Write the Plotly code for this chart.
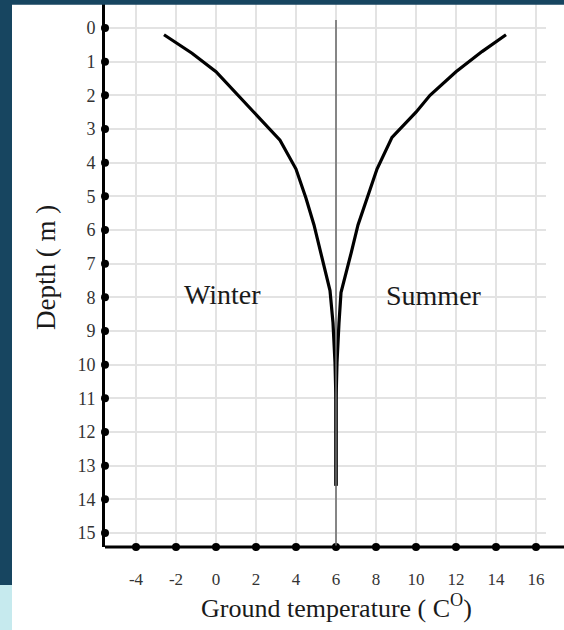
import plotly.graph_objects as go

# ---- data ----
winter_temp = [-2.6, -1.2, 0.0, 1.1, 2.0, 3.2, 4.0, 4.5, 4.9, 5.25, 5.55, 5.7, 5.85, 5.95, 6.0, 6.0]
winter_depth = [0.2, 0.75, 1.3, 2.0, 2.55, 3.33, 4.19, 5.06, 5.85, 6.7, 7.43, 7.8, 8.76, 9.94, 11.1, 13.6]
summer_temp = [14.5, 13.3, 12.0, 10.7, 10.0, 8.8, 8.05, 7.55, 7.1, 6.75, 6.45, 6.25, 6.15, 6.05, 6.0, 6.0]
summer_depth = [0.2, 0.7, 1.3, 2.0, 2.5, 3.25, 4.19, 5.06, 5.85, 6.7, 7.43, 7.86, 8.76, 9.94, 11.1, 13.6]

temp_ticks = [-4, -2, 0, 2, 4, 6, 8, 10, 12, 14, 16]
temp_tick_labels = ["-4", "-2", "0", "2", "4", "6", "8", "10", "12", "14", "16"]
depth_ticks = list(range(0, 16))
depth_tick_labels = [str(d) for d in depth_ticks]

mean_temp = 6

x_range = [-5.55, 16.5]
y_range = [15.416, -0.713]

W, H = 564, 630
ML, MR, MT, MB = 105, 18, 4, 83
PW = W - ML - MR
PH = H - MT - MB

def px_x(p):
    return (p - ML) / PW

def px_y(p):
    return (H - MB - p) / PH

FONT = "Liberation Serif"
DARK = "#174560"

fig = go.Figure()

# curves
fig.add_trace(go.Scatter(x=winter_temp, y=winter_depth, mode="lines",
                         line=dict(color="black", width=3.2), showlegend=False, hoverinfo="skip"))
fig.add_trace(go.Scatter(x=summer_temp, y=summer_depth, mode="lines",
                         line=dict(color="black", width=3.2), showlegend=False, hoverinfo="skip"))

# tick dots on axes
fig.add_trace(go.Scatter(x=[x_range[0]] * len(depth_ticks), y=depth_ticks, mode="markers",
                         marker=dict(color="black", size=8), cliponaxis=False,
                         showlegend=False, hoverinfo="skip"))
fig.add_trace(go.Scatter(x=temp_ticks, y=[y_range[0]] * len(temp_ticks), mode="markers",
                         marker=dict(color="black", size=8), cliponaxis=False,
                         showlegend=False, hoverinfo="skip"))

shapes = [
    # mean temperature line
    dict(type="line", xref="x", yref="paper", x0=mean_temp, x1=mean_temp,
         y0=px_y(20), y1=0, line=dict(color="#6e6e6e", width=1.6), layer="above"),
    # x axis line extended
    dict(type="line", xref="paper", yref="paper", x0=0, x1=px_x(W + 2), y0=0, y1=0,
         line=dict(color="black", width=3), layer="above"),
    # background strips
    dict(type="rect", xref="paper", yref="paper", x0=px_x(0), x1=px_x(W),
         y0=px_y(4.5), y1=px_y(0), fillcolor=DARK, line=dict(width=0), layer="above"),
    dict(type="line", xref="paper", yref="paper", x0=px_x(0), x1=px_x(W),
         y0=px_y(2.2), y1=px_y(2.2), line=dict(color=DARK, width=4.5), layer="above"),
    dict(type="rect", xref="paper", yref="paper", x0=px_x(0), x1=px_x(12),
         y0=px_y(585), y1=px_y(0), fillcolor=DARK, line=dict(width=0), layer="above"),
    dict(type="rect", xref="paper", yref="paper", x0=px_x(0), x1=px_x(12),
         y0=px_y(H), y1=px_y(585), fillcolor="#c6eaee", line=dict(width=0), layer="above"),
]

annotations = [
    dict(text="Winter", x=0.3, y=7.93, xref="x", yref="y", showarrow=False,
         font=dict(family=FONT, size=28, color="#1a1a1a")),
    dict(text="Summer", x=10.9, y=7.96, xref="x", yref="y", showarrow=False,
         font=dict(family=FONT, size=28, color="#1a1a1a")),
    dict(text="Ground temperature ( C<sup>O</sup>)", x=mean_temp, y=px_y(606), xref="x", yref="paper",
         showarrow=False, xanchor="center", yanchor="middle",
         font=dict(family=FONT, size=26, color="#1a1a1a")),
    dict(text="Depth ( m )", x=px_x(46), y=px_y(268), xref="paper", yref="paper",
         showarrow=False, textangle=-90, xanchor="center", yanchor="middle",
         font=dict(family=FONT, size=27, color="#1a1a1a")),
]

fig.update_layout(
    width=W, height=H, autosize=False,
    margin=dict(l=ML, r=MR, t=MT, b=MB, pad=0),
    paper_bgcolor="white", plot_bgcolor="white",
    shapes=shapes, annotations=annotations, showlegend=False,
    xaxis=dict(range=x_range, tickvals=temp_ticks, ticktext=temp_tick_labels,
               showgrid=True, gridcolor="#e3e3e3", gridwidth=1.5, zeroline=False,
               showline=False, ticks="", ticklabelstandoff=20,
               tickfont=dict(family=FONT, size=17, color="#333333")),
    yaxis=dict(range=y_range, tickvals=depth_ticks, ticktext=depth_tick_labels,
               showgrid=True, gridcolor="#e3e3e3", gridwidth=1.5, zeroline=False,
               showline=True, linecolor="black", linewidth=3, ticks="", ticklabelstandoff=3,
               tickfont=dict(family=FONT, size=18, color="#333333")),
)

fig.write_html("out.html", config={"displayModeBar": False},
               post_script="document.body.style.margin='0';document.body.style.overflow='hidden';window.scrollTo(0,0);")
